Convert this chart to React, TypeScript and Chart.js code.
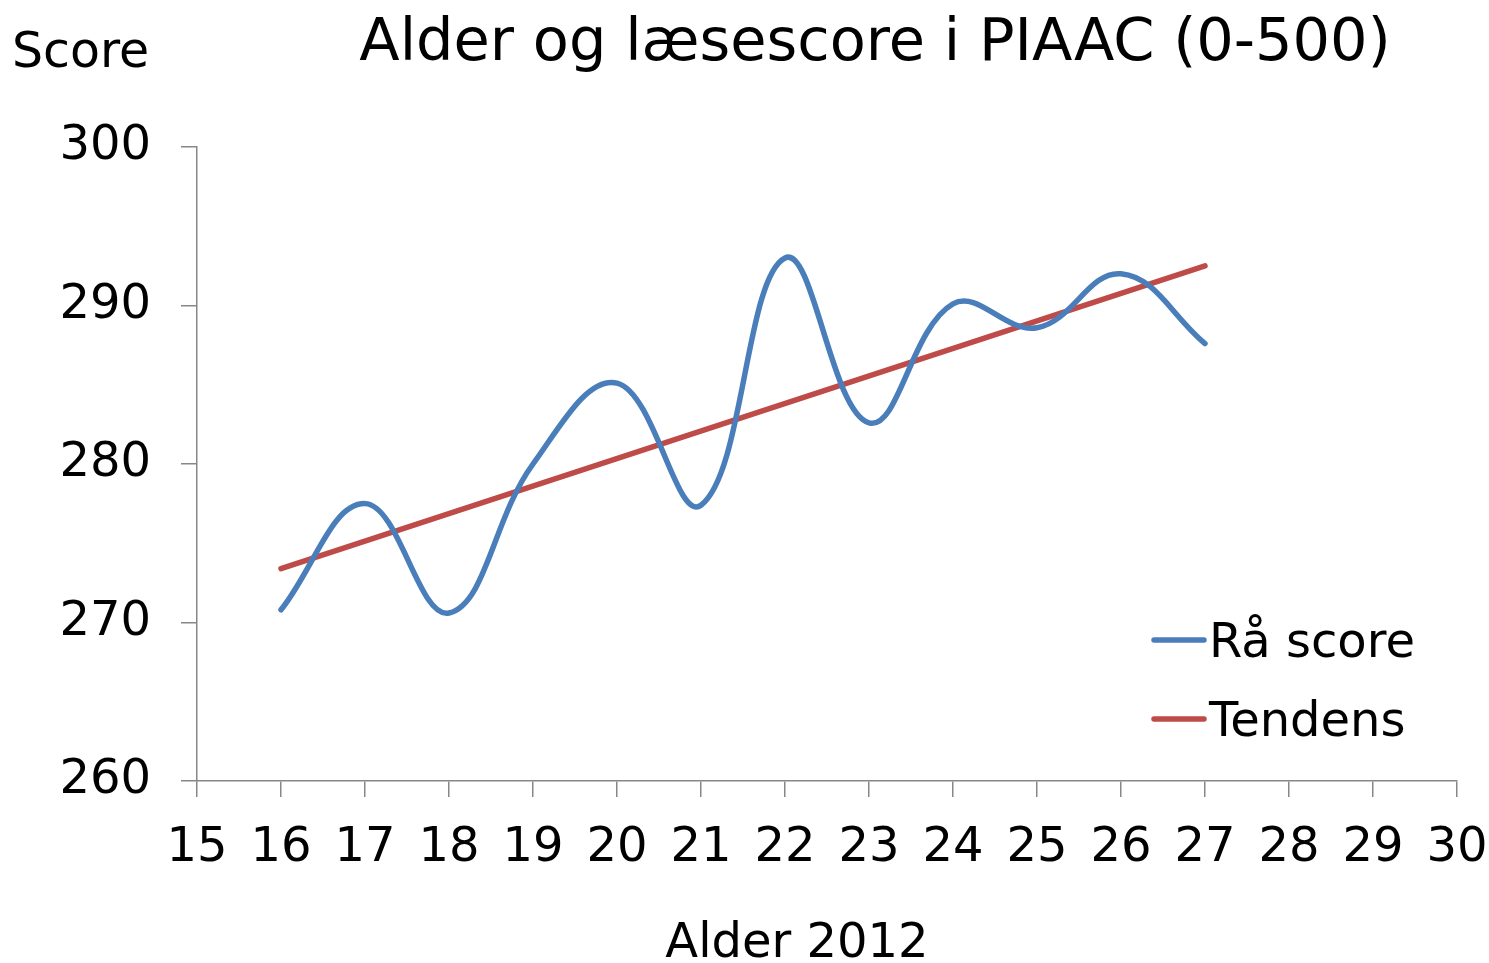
import React, { useEffect, useRef } from "react";
import { Chart, registerables } from "chart.js";

Chart.register(...registerables);

const ages = [16, 17, 18, 19, 20, 21, 22, 23, 24, 25, 26, 27];
const rawScores = [270.8, 277.5, 270.6, 280.0, 285.1, 277.4, 293.0, 282.6, 290.1, 288.6, 292.0, 287.6];
const trendAges = [16, 27];
const trendScores = [273.4, 292.5];
const seriesNames = ["Rå score", "Tendens"];
const seriesColors = ["#4A7EBB", "#BE4B48"];
const chartTitle = "Alder og læsescore i PIAAC (0-500)";
const yAxisTitle = "Score";
const xAxisTitle = "Alder 2012";
const xMin = 15, xMax = 30, xStep = 1;
const yMin = 260, yMax = 300, yStep = 10;

const FONT = "'DejaVu Sans', Verdana, sans-serif";
const AXIS_COLOR = "#878787";

const textPlugin = {
  id: "customTexts",
  afterDraw(chart: any) {
    const ctx = chart.ctx;
    ctx.save();
    ctx.fillStyle = "#000";
    ctx.textBaseline = "alphabetic";
    // title
    ctx.font = `59px ${FONT}`;
    ctx.textAlign = "center";
    ctx.fillText(chartTitle, 875, 60);
    // y axis title
    ctx.font = `49px ${FONT}`;
    ctx.textAlign = "left";
    ctx.fillText(yAxisTitle, 12, 67);
    // x axis title
    ctx.font = `48px ${FONT}`;
    ctx.textAlign = "center";
    ctx.fillText(xAxisTitle, 797, 957);
    // legend
    const rows = [640, 719];
    seriesNames.forEach((name, i) => {
      const y = rows[i];
      ctx.strokeStyle = seriesColors[i];
      ctx.lineWidth = 5.5;
      ctx.lineCap = "round";
      ctx.beginPath();
      ctx.moveTo(1154, y);
      ctx.lineTo(1204, y);
      ctx.stroke();
      ctx.textAlign = "left";
      ctx.fillText(name, 1209, y + 17);
    });
    ctx.restore();
  },
};

export default function App() {
  const ref = useRef<HTMLCanvasElement | null>(null);
  useEffect(() => {
    document.body.style.margin = "0";
    const canvas = ref.current!;
    const chart = new Chart(canvas, {
      type: "line",
      data: {
        datasets: [
          {
            label: seriesNames[0],
            data: ages.map((a, i) => ({ x: a, y: rawScores[i] })),
            borderColor: seriesColors[0],
            borderWidth: 5.5,
            pointRadius: 0,
            tension: 0.4,
            borderCapStyle: "round",
            borderJoinStyle: "round",
            fill: false,
          },
          {
            label: seriesNames[1],
            data: trendAges.map((a, i) => ({ x: a, y: trendScores[i] })),
            borderColor: seriesColors[1],
            borderWidth: 5.5,
            pointRadius: 0,
            tension: 0,
            borderCapStyle: "round",
            fill: false,
          },
        ],
      },
      options: {
        responsive: false,
        animation: false,
        devicePixelRatio: 1,
        layout: { padding: { top: 147, right: 32, left: 0, bottom: 0 } },
        plugins: {
          legend: { display: false },
          title: { display: false },
          tooltip: { enabled: false },
        },
        scales: {
          x: {
            type: "linear",
            min: xMin,
            max: xMax,
            afterFit: (s: any) => {
              s.height = 182;
              s.paddingLeft = 0;
              s.paddingRight = 0;
            },
            ticks: {
              stepSize: xStep,
              padding: 23,
              color: "#000",
              font: { family: FONT, size: 48 },
              maxRotation: 0,
              autoSkip: false,
            },
            grid: {
              drawOnChartArea: false,
              drawTicks: true,
              tickLength: 16,
              color: AXIS_COLOR,
              lineWidth: 1.5,
            },
            border: { display: true, color: AXIS_COLOR, width: 1.5 },
          },
          y: {
            type: "linear",
            min: yMin,
            max: yMax,
            afterFit: (s: any) => {
              s.width = 197;
              s.paddingTop = 0;
              s.paddingBottom = 0;
            },
            ticks: {
              stepSize: yStep,
              padding: 30,
              color: "#000",
              font: { family: FONT, size: 48 },
            },
            grid: {
              drawOnChartArea: false,
              drawTicks: true,
              tickLength: 16,
              color: AXIS_COLOR,
              lineWidth: 1.5,
            },
            border: { display: true, color: AXIS_COLOR, width: 1.5 },
          },
        },
      },
      plugins: [textPlugin],
    });
    return () => chart.destroy();
  }, []);
  return (
    <div style={{ width: 1489, height: 963, background: "#fff" }}>
      <canvas ref={ref} width={1489} height={963} style={{ display: "block" }} />
    </div>
  );
}
